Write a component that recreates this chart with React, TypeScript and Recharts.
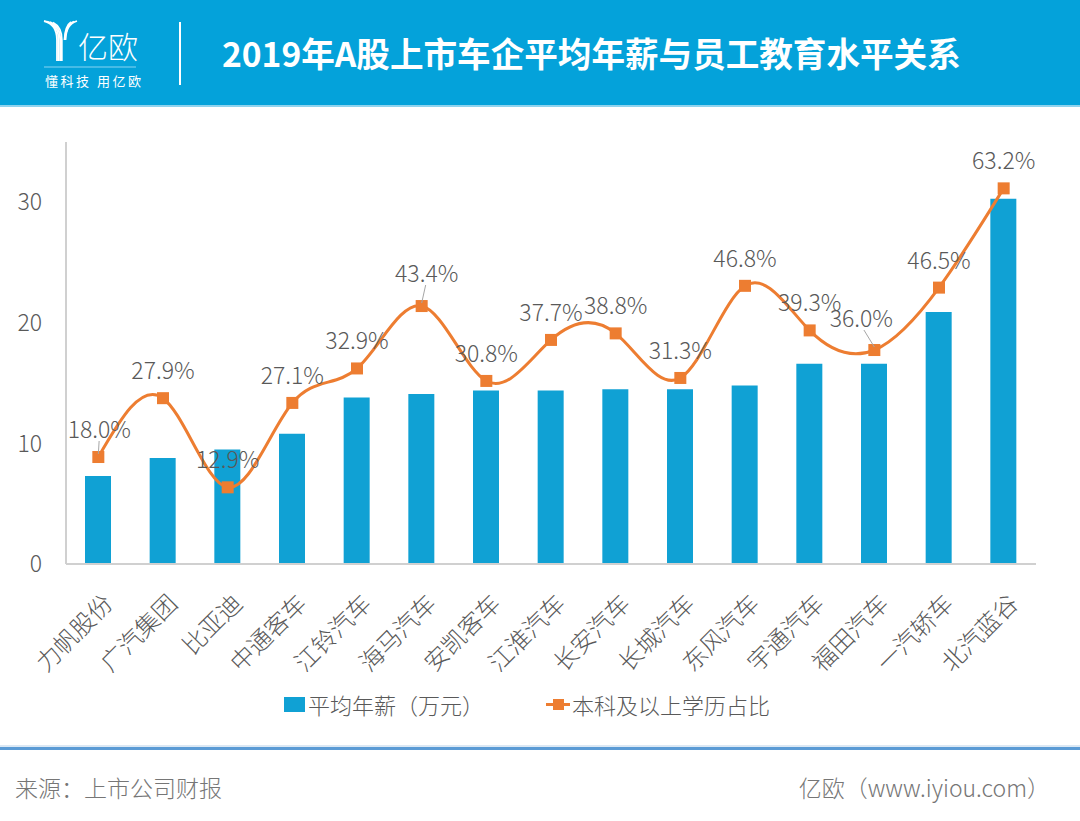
import { ComposedChart, Bar, Line, XAxis, YAxis } from 'recharts';

const companies = ['力帆股份', '广汽集团', '比亚迪', '中通客车', '江铃汽车', '海马汽车', '安凯客车', '江淮汽车', '长安汽车', '长城汽车', '东风汽车', '宇通汽车', '福田汽车', '一汽轿车', '北汽蓝谷'];
// 平均年薪（万元）
const avgSalary = [7.3, 8.8, 9.5, 10.8, 13.8, 14.1, 14.4, 14.4, 14.5, 14.5, 14.8, 16.6, 16.6, 20.9, 30.3];
// 本科及以上学历占比（%）
const degreeShare = [18.0, 27.9, 12.9, 27.1, 32.9, 43.4, 30.8, 37.7, 38.8, 31.3, 46.8, 39.3, 36.0, 46.5, 63.2];
const salaryTicks = [0, 10, 20, 30];

const chartData = companies.map((name, i) => ({ name, salary: avgSalary[i], share: degreeShare[i] }));

const FONT = "'Noto Sans CJK SC', 'Noto Sans', sans-serif";
const BLUE = '#10a1d4';
const ORANGE = '#ed7d31';
const TEXT = '#595959';

// labels that were nudged by hand in the original, with a small leader line
const labelNudge: Record<number, { dx: number; dy: number }> = {
  0: { dx: 1, dy: 0 },
  5: { dx: 5, dy: -5 },
  12: { dx: -13, dy: -4 },
};

const CompanyTick = (props: any) => {
  const { x, y, payload } = props;
  const ax = x + 16;
  const ay = y + 33;
  return (
    <text x={ax} y={ay} transform={`rotate(-45 ${ax} ${ay})`} textAnchor="end" fill={TEXT} fontSize={24} fontFamily={FONT} fontWeight={300}>
      {payload.value}
    </text>
  );
};

const SquareDot = (props: any) => {
  const { cx, cy, index } = props;
  if (cx == null || cy == null) return null;
  return <rect key={`dot-${index}`} x={cx - 6} y={cy - 6} width={12} height={12} fill={ORANGE} />;
};

const ShareLabel = (props: any) => {
  const x = props.x ?? props.viewBox?.x;
  const y = props.y ?? props.viewBox?.y;
  const index = props.index;
  const nudge = labelNudge[index];
  const dx = nudge ? nudge.dx : 0;
  const dy = nudge ? nudge.dy : 0;
  return (
    <g key={`lbl-${index}`}>
      {nudge && (
        <line x1={x + dx * 0.8} y1={y - 16 + dy} x2={x} y2={y - 3} stroke="#a6a6a6" strokeWidth={1} />
      )}
      <text x={x + dx} y={y - 19 + dy} textAnchor="middle" fill={TEXT} fontSize={23} fontFamily={FONT} fontWeight={300}>
        {`${Number(props.value).toFixed(1)}%`}
      </text>
    </g>
  );
};

const Logo = () => (
  <svg width={150} height={100} style={{ position: 'absolute', left: 0, top: 0 }}>
    <g stroke="#fff" strokeWidth={1.8} fill="none">
      {[0, 1, 2, 3].map((i) => (
        <path key={`l${i}`} d={`M ${44 + i * 3} ${21 + i * 0.5} Q ${57 + i * 1.6} ${24 + i} ${57 + i * 1.6} ${40} V ${61}`} />
      ))}
      {[0, 1, 2].map((i) => (
        <path key={`r${i}`} d={`M ${77 - i * 3} ${21 + i * 0.5} Q ${66 - i * 0.5} ${24 + i} ${65.5 - i * 0.5} ${40}`} />
      ))}
    </g>
    <text x={78} y={58} fill="#fff" fontSize={30} fontFamily={FONT} fontWeight={300}>亿欧</text>
    <line x1={44} y1={67} x2={136} y2={67} stroke="#5cc3ea" strokeWidth={1.5} />
    <text x={45} y={86} fill="#fff" fontSize={13} fontFamily={FONT} letterSpacing={2.5}>懂科技 用亿欧</text>
  </svg>
);

export default function App() {
  return (
    <div style={{ position: 'absolute', left: 0, top: 0, width: 1080, height: 821, background: '#fff', fontFamily: FONT, overflow: 'hidden' }}>
      <div style={{ position: 'absolute', left: 0, top: 0, width: 1080, height: 105, background: '#04a2da', borderBottom: '2px solid #8fd3ee' }}>
        <Logo />
        <div style={{ position: 'absolute', left: 179, top: 22, width: 2, height: 63, background: '#fff' }} />
        <div style={{ position: 'absolute', left: 222, top: 31, color: '#fff', fontSize: 33.6, fontWeight: 700, lineHeight: '44px', whiteSpace: 'nowrap' }}>
          2019年A股上市车企平均年薪与员工教育水平关系
        </div>
      </div>

      <div style={{ position: 'absolute', left: 0, top: 0 }}>
        <ComposedChart width={1080} height={680} data={chartData} margin={{ top: 142, right: 44, bottom: 0, left: 16 }}>
          <XAxis
            dataKey="name"
            interval={0}
            height={116}
            tickLine={false}
            axisLine={{ stroke: '#d0d0d0', strokeWidth: 2 }}
            tick={<CompanyTick />}
          />
          <YAxis
            yAxisId="left"
            domain={[0, 35]}
            ticks={salaryTicks}
            width={50}
            tickLine={false}
            tickMargin={18}
            axisLine={{ stroke: '#d0d0d0', strokeWidth: 2 }}
            tick={{ fill: TEXT, fontSize: 23, fontFamily: FONT, fontWeight: 300 }}
          />
          <YAxis yAxisId="right" orientation="right" domain={[0, 71]} hide />
          <Bar yAxisId="left" dataKey="salary" fill={BLUE} barSize={26} isAnimationActive={false} />
          <Line
            yAxisId="right"
            dataKey="share"
            type="natural"
            stroke={ORANGE}
            strokeWidth={3}
            dot={<SquareDot />}
            activeDot={false}
            label={<ShareLabel />}
            isAnimationActive={false}
          />
        </ComposedChart>
      </div>

      {/* legend */}
      <div style={{ position: 'absolute', left: 284, top: 688, display: 'flex', alignItems: 'center', fontSize: 22, color: TEXT, fontWeight: 300, whiteSpace: 'nowrap' }}>
        <span style={{ width: 21, height: 15, background: BLUE, display: 'inline-block', marginRight: 3 }} />
        <span>平均年薪（万元）</span>
        <span style={{ position: 'relative', width: 24, height: 15, display: 'inline-block', marginLeft: 62, marginRight: 2 }}>
          <span style={{ position: 'absolute', left: 0, top: 6, width: 24, height: 3, background: ORANGE }} />
          <span style={{ position: 'absolute', left: 7, top: 2, width: 11, height: 11, background: ORANGE }} />
        </span>
        <span>本科及以上学历占比</span>
      </div>

      {/* footer */}
      <div style={{ position: 'absolute', left: 0, top: 745, width: 1080, height: 2, background: '#dbe8f4' }} />
      <div style={{ position: 'absolute', left: 0, top: 747, width: 1080, height: 3, background: '#5b9bd5' }} />
      <div style={{ position: 'absolute', left: 15, top: 770, fontSize: 23, color: '#767676', fontWeight: 300, whiteSpace: 'nowrap' }}>来源：上市公司财报</div>
      <div style={{ position: 'absolute', right: 30, top: 770, fontSize: 23, color: '#767676', fontWeight: 300, whiteSpace: 'nowrap' }}>亿欧（www.iyiou.com）</div>
    </div>
  );
}
